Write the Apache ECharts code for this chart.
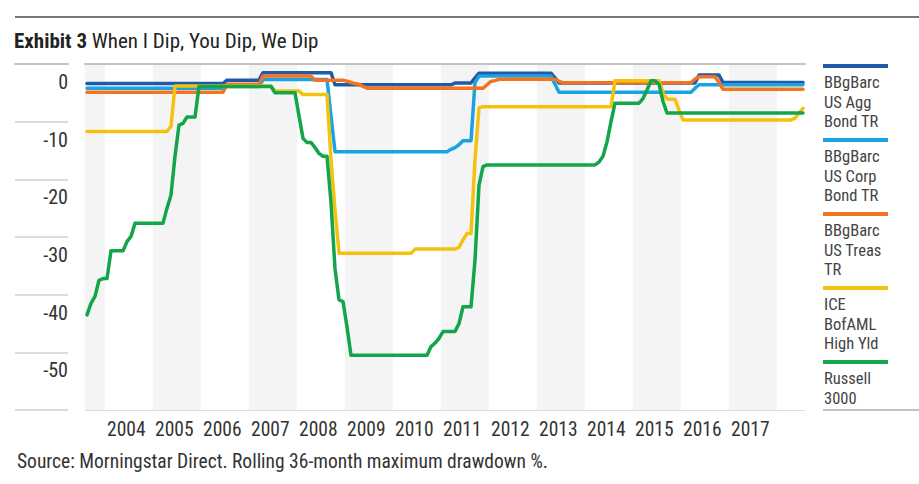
<!DOCTYPE html>
<html>
<head>
<meta charset="utf-8">
<script src="https://cdn.jsdelivr.net/npm/echarts@6/dist/echarts.min.js"></script>
<style>
html,body{margin:0;padding:0;background:#fff;}
#chart{width:919px;height:484px;}
</style>
</head>
<body>
<div id="chart"></div>
<script>
// ---- Data (monthly, Aug 2003 .. Jul 2018) ----
const startYear = 2003, startMonth = 8, monthCount = 180;
const yearLabels = ['2004','2005','2006','2007','2008','2009','2010','2011','2012','2013','2014','2015','2016','2017'];
const seriesNames = ['BBgBarc US Agg Bond TR','BBgBarc US Corp Bond TR','BBgBarc US Treas TR','ICE BofAML High Yld','Russell 3000'];
const legendLabels = ['BBgBarc\nUS Agg\nBond TR','BBgBarc\nUS Corp\nBond TR','BBgBarc\nUS Treas\nTR','ICE\nBofAML\nHigh Yld','Russell\n3000'];
const yTicks = [0,-10,-20,-30,-40,-50];

const aggBond = [
 -3.4,-3.4,-3.4,-3.4,-3.4,
 -3.4,-3.4,-3.4,-3.4,-3.4,-3.4,-3.4,-3.4,-3.4,-3.4,-3.4,-3.4,
 -3.4,-3.4,-3.4,-3.4,-3.4,-3.4,-3.4,-3.4,-3.4,-3.4,-3.4,-3.4,
 -3.4,-3.4,-3.4,-3.4,-3.4,-3.4,-2.8,-2.8,-2.8,-2.8,-2.8,-2.8,
 -2.8,-2.8,-2.8,-1.5,-1.5,-1.5,-1.5,-1.5,-1.5,-1.5,-1.5,-1.5,
 -1.5,-1.5,-1.5,-1.5,-1.5,-1.5,-1.5,-1.5,-1.5,-3.6,-3.6,-3.6,
 -3.6,-3.6,-3.6,-3.6,-3.6,-3.6,-3.6,-3.6,-3.6,-3.6,-3.6,-3.6,
 -3.6,-3.6,-3.6,-3.6,-3.6,-3.6,-3.6,-3.6,-3.6,-3.6,-3.6,-3.6,
 -3.6,-3.6,-3.6,-3.3,-3.3,-3.3,-3.3,-3.3,-2.4,-1.6,-1.6,-1.6,
 -1.6,-1.6,-1.6,-1.6,-1.6,-1.6,-1.6,-1.6,-1.6,-1.6,-1.6,-1.6,
 -1.6,-1.6,-1.6,-1.6,-2.4,-3.3,-3.3,-3.3,-3.3,-3.3,-3.3,-3.3,
 -3.3,-3.3,-3.3,-3.3,-3.3,-3.3,-3.3,-3.3,-3.3,-3.3,-3.3,-3.3,
 -3.3,-3.3,-3.3,-3.3,-3.3,-3.3,-3.3,-3.3,-3.3,-3.3,-3.3,-3.3,
 -3.3,-3.3,-3.3,-3.3,-1.9,-1.9,-1.9,-1.9,-1.9,-1.9,-3.2,-3.2,
 -3.2,-3.2,-3.2,-3.2,-3.2,-3.2,-3.2,-3.2,-3.2,-3.2,-3.2,-3.2,
 -3.2,-3.2,-3.2,-3.2,-3.2,-3.2,-3.2
];
const corpBond = [
 -4.2,-4.2,-4.2,-4.2,-4.2,
 -4.2,-4.2,-4.2,-4.2,-4.2,-4.2,-4.2,-4.2,-4.2,-4.2,-4.2,-4.2,
 -4.2,-4.2,-4.2,-4.2,-4.2,-4.2,-4.2,-4.2,-4.2,-4.2,-4.2,-4.2,
 -4.2,-4.2,-4.2,-4.2,-4.2,-4.2,-3.9,-3.9,-3.9,-3.9,-3.9,-3.9,
 -3.9,-3.9,-3.9,-2.7,-2.7,-2.7,-2.7,-2.7,-2.7,-2.7,-2.7,-2.7,
 -2.7,-2.7,-2.7,-2.7,-2.7,-2.7,-2.7,-2.7,-9.0,-15.2,-15.2,-15.2,
 -15.2,-15.2,-15.2,-15.2,-15.2,-15.2,-15.2,-15.2,-15.2,-15.2,-15.2,-15.2,
 -15.2,-15.2,-15.2,-15.2,-15.2,-15.2,-15.2,-15.2,-15.2,-15.2,-15.2,-15.2,
 -15.2,-15.2,-14.8,-14.5,-14.0,-13.3,-13.3,-13.3,-3.2,-2.1,-2.1,-2.1,
 -2.1,-2.1,-2.1,-2.1,-2.1,-2.1,-2.1,-2.1,-2.1,-2.1,-2.1,-2.1,
 -2.1,-2.1,-2.1,-2.1,-3.5,-4.9,-4.9,-4.9,-4.9,-4.9,-4.9,-4.9,
 -4.9,-4.9,-4.9,-4.9,-4.9,-4.9,-4.9,-4.9,-4.9,-4.9,-4.9,-4.9,
 -4.9,-4.9,-4.9,-4.9,-4.9,-4.9,-4.9,-4.9,-4.9,-4.9,-4.9,-4.9,
 -4.9,-4.9,-4.9,-4.2,-3.6,-3.6,-3.6,-3.6,-3.6,-3.6,-3.6,-3.6,
 -3.6,-3.6,-3.6,-3.6,-3.6,-3.6,-3.6,-3.6,-3.6,-3.6,-3.6,-3.6,
 -3.6,-3.6,-3.6,-3.6,-3.6,-3.6,-3.6
];
const treasBond = [
 -4.9,-4.9,-4.9,-4.9,-4.9,
 -4.9,-4.9,-4.9,-4.9,-4.9,-4.9,-4.9,-4.9,-4.9,-4.9,-4.9,-4.9,
 -4.9,-4.9,-4.9,-4.9,-4.9,-4.9,-4.9,-4.9,-4.9,-4.9,-4.9,-4.9,
 -4.9,-4.9,-4.9,-4.9,-4.9,-4.9,-3.5,-3.5,-3.5,-3.5,-3.5,-3.5,
 -3.5,-3.5,-3.5,-2.1,-2.1,-2.1,-2.1,-2.1,-2.1,-2.1,-2.1,-2.1,
 -2.1,-2.1,-2.1,-2.1,-2.8,-2.8,-2.8,-2.8,-2.8,-2.8,-2.8,-2.8,
 -3.0,-3.2,-3.4,-3.5,-3.9,-4.2,-4.2,-4.2,-4.2,-4.2,-4.2,-4.2,
 -4.2,-4.2,-4.2,-4.2,-4.2,-4.2,-4.2,-4.2,-4.2,-4.2,-4.2,-4.2,
 -4.2,-4.2,-4.2,-4.2,-4.2,-4.2,-4.2,-4.2,-4.2,-4.2,-4.2,-3.6,
 -3.0,-2.9,-2.65,-2.65,-2.65,-2.65,-2.65,-2.65,-2.65,-2.65,-2.65,-2.65,
 -2.65,-2.65,-2.65,-2.65,-2.65,-3.0,-3.25,-3.25,-3.25,-3.25,-3.25,-3.25,
 -3.25,-3.25,-3.25,-3.25,-3.25,-3.25,-3.25,-3.25,-3.25,-3.25,-3.25,-3.25,
 -3.25,-3.25,-3.25,-3.25,-3.25,-3.25,-3.25,-3.25,-3.25,-3.25,-3.25,-3.25,
 -3.25,-3.25,-3.25,-2.6,-2.2,-2.2,-2.2,-2.2,-2.2,-3.2,-4.4,-4.4,
 -4.4,-4.4,-4.4,-4.4,-4.4,-4.4,-4.4,-4.4,-4.4,-4.4,-4.4,-4.4,
 -4.4,-4.4,-4.4,-4.4,-4.4,-4.4,-4.4
];
const highYield = [
 -11.7,-11.7,-11.7,-11.7,-11.7,
 -11.7,-11.7,-11.7,-11.7,-11.7,-11.7,-11.7,-11.7,-11.7,-11.7,-11.7,-11.7,
 -11.7,-11.7,-11.7,-11.7,-10.8,-3.8,-3.8,-3.8,-3.8,-3.8,-3.8,-3.8,
 -3.8,-3.8,-3.8,-3.8,-3.8,-3.8,-3.8,-3.8,-3.8,-3.8,-3.8,-3.8,
 -3.8,-3.8,-3.8,-3.8,-3.8,-3.8,-4.7,-4.7,-4.7,-4.7,-4.7,-4.7,
 -4.7,-5.3,-5.3,-5.3,-5.3,-5.3,-5.3,-5.3,-16.6,-25.3,-32.8,-32.8,
 -32.8,-32.8,-32.8,-32.8,-32.8,-32.8,-32.8,-32.8,-32.8,-32.8,-32.8,-32.8,
 -32.8,-32.8,-32.8,-32.8,-32.8,-32.1,-32.1,-32.1,-32.1,-32.1,-32.1,-32.1,
 -32.1,-32.1,-32.1,-32.1,-31.8,-30.5,-29.4,-29.4,-16.6,-7.6,-7.4,-7.4,
 -7.4,-7.4,-7.4,-7.4,-7.4,-7.4,-7.4,-7.4,-7.4,-7.4,-7.4,-7.4,
 -7.4,-7.4,-7.4,-7.4,-7.4,-7.4,-7.4,-7.4,-7.4,-7.4,-7.4,-7.4,
 -7.4,-7.4,-7.4,-7.4,-7.4,-7.4,-7.4,-2.9,-2.9,-2.9,-2.9,-2.9,
 -2.9,-2.9,-2.9,-2.9,-2.9,-2.9,-2.9,-5.0,-6.1,-6.1,-6.1,-8.0,
 -9.7,-9.7,-9.7,-9.7,-9.7,-9.7,-9.7,-9.7,-9.7,-9.7,-9.7,-9.7,
 -9.7,-9.7,-9.7,-9.7,-9.7,-9.7,-9.7,-9.7,-9.7,-9.7,-9.7,-9.7,
 -9.7,-9.7,-9.7,-9.7,-9.4,-8.5,-7.7
];
const russell3000 = [
 -43.5,-41.5,-40.3,-37.5,-37.2,
 -37.2,-32.4,-32.4,-32.4,-32.4,-30.8,-29.9,-27.6,-27.6,-27.6,-27.6,-27.6,
 -27.6,-27.6,-27.6,-25.0,-22.7,-16.0,-10.6,-10.3,-9.2,-9.2,-9.2,-3.9,
 -3.9,-3.9,-3.9,-3.9,-3.9,-3.9,-3.9,-3.9,-3.9,-3.9,-3.9,-3.9,
 -3.9,-3.9,-3.9,-3.9,-3.9,-3.9,-5.0,-5.0,-5.0,-5.0,-5.0,-5.0,
 -9.0,-12.9,-13.6,-13.6,-14.5,-15.5,-16.0,-16.0,-24.0,-35.5,-40.9,-41.2,
 -45.6,-50.5,-50.5,-50.5,-50.5,-50.5,-50.5,-50.5,-50.5,-50.5,-50.5,-50.5,
 -50.5,-50.5,-50.5,-50.5,-50.5,-50.5,-50.5,-50.5,-50.5,-49.0,-48.4,-47.6,
 -46.4,-46.4,-46.4,-46.4,-45.0,-42.1,-42.1,-42.1,-34.0,-21.0,-17.8,-17.5,
 -17.5,-17.5,-17.5,-17.5,-17.5,-17.5,-17.5,-17.5,-17.5,-17.5,-17.5,-17.5,
 -17.5,-17.5,-17.5,-17.5,-17.5,-17.5,-17.5,-17.5,-17.5,-17.5,-17.5,-17.5,
 -17.5,-17.5,-17.5,-17.0,-16.0,-13.5,-10.0,-6.8,-6.8,-6.8,-6.8,-6.8,
 -6.8,-6.8,-6.0,-4.5,-2.9,-2.9,-3.5,-6.5,-8.5,-8.5,-8.5,-8.5,
 -8.5,-8.5,-8.5,-8.5,-8.5,-8.5,-8.5,-8.5,-8.5,-8.5,-8.5,-8.5,
 -8.5,-8.5,-8.5,-8.5,-8.5,-8.5,-8.5,-8.5,-8.5,-8.5,-8.5,-8.5,
 -8.5,-8.5,-8.5,-8.5,-8.5,-8.5,-8.5
];
const seriesValues = [aggBond, corpBond, treasBond, highYield, russell3000];
const seriesColors = ['#1f5ba8','#1ba3df','#f37321','#f5c10f','#12a54a'];

// month categories
const months = [];
for (let k = 0; k < monthCount; k++) {
  const m0 = startMonth - 1 + k;
  const y = startYear + Math.floor(m0 / 12);
  const m = (m0 % 12) + 1;
  months.push(y + '-' + (m < 10 ? '0' + m : '' + m));
}

const FONT = "'Liberation Sans Narrow','Roboto Condensed','Arial Narrow',Roboto,sans-serif";
const isJan = (idx, val) => String(val).slice(5) === '01';
const isLabelJan = (idx, val) => isJan(idx, val) && yearLabels.indexOf(String(val).slice(0,4)) >= 0;

// legend graphics
const legendGraphics = [];
let ly = 64;
legendLabels.forEach((lab, i) => {
  const nLines = lab.split('\n').length;
  legendGraphics.push({type:'rect', shape:{x:823, y:ly, width:65, height:4}, style:{fill:seriesColors[i]}, silent:true});
  legendGraphics.push({type:'text', x:824, y:ly+9, style:{text:lab, font:'16.5px ' + FONT, fill:'#444', lineHeight:19.5, textAlign:'left', textVerticalAlign:'top', align:'left', verticalAlign:'top'}, silent:true});
  ly += 19 + (nLines - 1) * 19.5 + 16;
});

const chart = echarts.init(document.getElementById('chart'), null, {renderer:'svg'});
chart.setOption({
  animation:false,
  backgroundColor:'#fff',
  title:{
    text:'{b|Exhibit 3} When I Dip, You Dip, We Dip',
    left:14, top:29, padding:0,
    textStyle:{fontFamily:FONT, fontSize:21, fontWeight:'normal', color:'#222', lineHeight:24,
      rich:{b:{fontFamily:FONT, fontSize:21, fontWeight:'bold', color:'#222', lineHeight:24}}}
  },
  grid:[
    {left:85, right:114, top:64, bottom:74, outerBoundsMode:'none', containLabel:false},
    {left:15, width:53, top:64, bottom:74, outerBoundsMode:'none', containLabel:false}
  ],
  xAxis:[
    {type:'category', gridIndex:0, data:months, boundaryGap:true,
     axisLine:{show:true, lineStyle:{color:'#c2c2c2', width:2}},
     axisTick:{show:false},
     axisLabel:{interval:isLabelJan, formatter:v => v.slice(0,4), align:'left', margin:9,
       fontFamily:FONT, fontSize:19.5, color:'#333'},
     splitLine:{show:false},
     splitArea:{show:true, interval:(idx, val) => idx === 0 || isJan(idx, val),
       areaStyle:{color:['#f4f4f4','#ffffff']}}
    },
    {type:'value', gridIndex:1, min:0, max:1, show:true,
     axisLine:{show:true, lineStyle:{color:'#c2c2c2', width:2}},
     axisTick:{show:false}, axisLabel:{show:false}, splitLine:{show:false}}
  ],
  yAxis:[
    {type:'value', gridIndex:0, min:-60, max:0, interval:10,
     axisLine:{show:false}, axisTick:{show:false}, axisLabel:{show:false},
     splitLine:{show:true, lineStyle:{color:'#dcdcdc', width:2}}},
    {type:'value', gridIndex:1, min:-60, max:0, interval:10, position:'right',
     axisLine:{show:false}, axisTick:{show:false},
     axisLabel:{inside:true, margin:0, showMinLabel:false, fontFamily:FONT, fontSize:20, color:'#333',
       verticalAlign:'top', padding:[8,0,0,0],
       formatter:v => yTicks.indexOf(v) >= 0 ? String(v) : ''},
     splitLine:{show:true, lineStyle:{color:'#dcdcdc', width:2}}}
  ],
  series: seriesNames.map((name, i) => ({
    name:name, type:'line', xAxisIndex:0, yAxisIndex:0,
    data:seriesValues[i], showSymbol:false, symbol:'none',
    lineStyle:{color:seriesColors[i], width:3.5, cap:'round', join:'round'},
    itemStyle:{color:seriesColors[i]}, z:2+i
  })),
  graphic:[
    {type:'line', shape:{x1:15, y1:17, x2:919, y2:17}, style:{stroke:'#4a4a4a', lineWidth:1.5}, silent:true},
    {type:'line', shape:{x1:823, y1:410, x2:919, y2:410}, style:{stroke:'#c2c2c2', lineWidth:2}, silent:true},
    {type:'text', x:17, y:461, style:{text:'Source: Morningstar Direct. Rolling 36-month maximum drawdown %.', font:'19.5px ' + FONT, fill:'#333', textAlign:'left', textVerticalAlign:'middle', align:'left', verticalAlign:'middle'}, silent:true}
  ].concat(legendGraphics)
});
</script>
</body>
</html>
